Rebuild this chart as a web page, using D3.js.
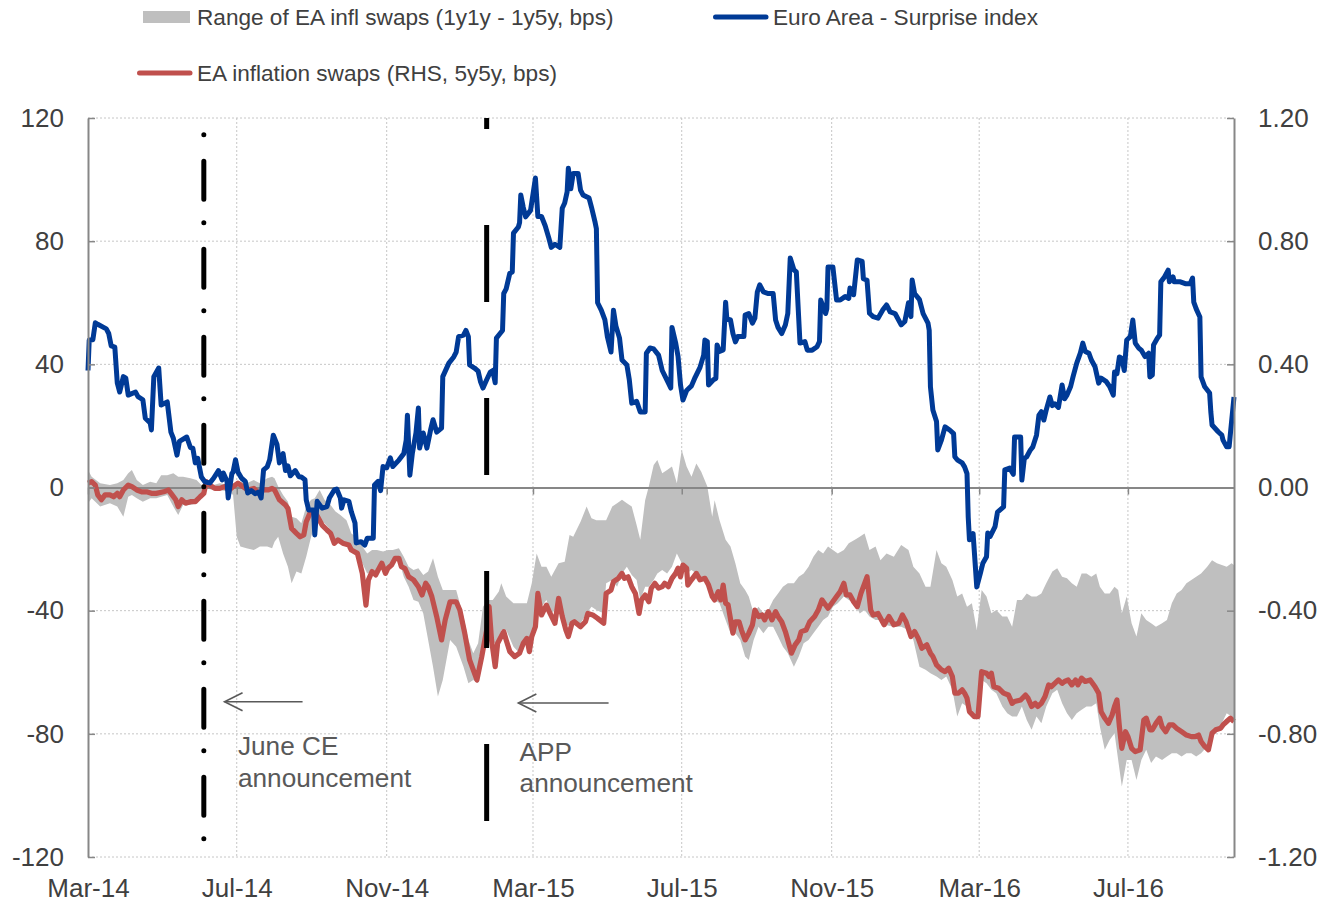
<!DOCTYPE html>
<html><head><meta charset="utf-8">
<script src="https://cdn.jsdelivr.net/npm/d3@7"></script>
<style>
body{margin:0;background:#fff}
svg{display:block}
text{font-family:"Liberation Sans",Arial,Helvetica,sans-serif}
</style>
</head><body>
<svg id="c" width="1322" height="903"></svg>
<script>
// ---------------- DATA ----------------
const startDate = "2014-03-01";           // day 0
const endDay = 940;                        // last observation (days after start)
const tickDates = ["2014-03-01","2014-07-01","2014-11-01","2015-03-01","2015-07-01","2015-11-01","2016-03-01","2016-07-01"];
const leftTicks = [-120,-80,-40,0,40,80,120];
const rightTicks = [-1.2,-0.8,-0.4,0,0.4,0.8,1.2];

// Euro Area - Surprise index (LHS) : [day, value]
const surprise = [[0,38],[1,47.9],[4,48],[6,53.5],[8,53],[15,51.5],[17,50],[19,46],[22,45.6],[24,34],[26,31],[29,36],[31,35.5],[33,30],[39,31],[41,29.5],[45,28.5],[47,22.5],[51,21],[52,18.7],[54,36],[58,38.8],[60,26.8],[65,27.8],[68,18],[70,16],[73,10.5],[75,15],[81,16.4],[84,13],[86,12.8],[88,8],[90,9.5],[93,3.4],[96,1.8],[100,1.5],[103,3],[107,5.5],[110,2.5],[111,4.7],[114,2],[115,-3.4],[118,4.5],[119,5],[121,9],[123,5],[126,3],[129,2],[131,-1.8],[134,-1],[137,-2],[140,-1.5],[142,-3.4],[144,5.7],[147,6.7],[149,9],[152,17],[155,14],[157,8],[160,11],[162,5.5],[164,7],[166,3.8],[170,5.5],[173,3.5],[175,3.4],[178,2.5],[179,-4],[181,-7.3],[185,-7.3],[186,-15.4],[188,-4.5],[192,-6.7],[196,-6.2],[198,-3.4],[202,-0.8],[204,-0.5],[207,-3.4],[208,-6.7],[210,-4],[214,-4.5],[216,-7.9],[219,-11.5],[220,-18],[224,-17.6],[227,-18.7],[229,-16.5],[234,-16.5],[235,0.8],[238,2],[240,-1],[242,6.8],[245,6.4],[248,9.6],[250,6.8],[255,8.9],[259,11],[261,15.4],[262,23.5],[264,4],[266,11],[269,17.7],[271,25.8],[272,12.8],[275,17.7],[278,12.8],[281,18.7],[283,22],[286,18],[290,19.3],[291,36],[296,40.4],[300,42.4],[302,44],[304,49],[308,49.5],[310,51],[312,49],[313,39.8],[317,38.8],[320,37.8],[322,34.3],[324,32.3],[327,35],[330,37.5],[332,38],[334,34],[335,48.5],[338,50],[340,51],[341,63],[343,64.5],[346,69.6],[348,70],[349,82.6],[353,84.6],[354,86],[355,95],[357,91],[359,87.9],[363,90],[367,100.5],[369,88],[372,88],[375,85],[378,81],[380,78],[383,79],[387,78],[389,90.7],[391,92.4],[393,96],[394,103.7],[396,97],[398,102],[402,102],[404,96.6],[406,95],[411,94],[413,91],[416,86],[417,84],[418,60],[421,57.6],[424,54.4],[426,49],[429,44],[431,57.6],[433,52.5],[436,48.5],[438,41.4],[442,39.8],[444,35],[446,27.4],[450,28],[453,24.5],[457,24.5],[458,43.6],[461,45.3],[464,45],[468,43],[471,38],[475,34.8],[478,32.3],[479,52],[482,47],[484,42.5],[486,33.3],[488,28.4],[491,31.5],[495,33],[498,35.8],[502,39],[505,43],[506,47.9],[508,47.4],[509,33.3],[513,35],[515,35.4],[516,46.3],[518,44.2],[521,44.7],[523,60.2],[524,54.8],[527,54.4],[529,50],[531,47.3],[533,49],[538,49],[539,56],[542,56.5],[545,53.4],[547,55],[549,63.5],[551,65.8],[554,63.5],[558,63],[562,63],[564,54.4],[566,52],[569,50],[572,52.8],[574,56.5],[576,74.5],[579,70.7],[581,70],[584,46.9],[588,47.4],[590,44.6],[594,44.6],[598,45.7],[600,47.4],[601,60.9],[605,56.5],[606,58],[607,71.6],[611,71.6],[614,60.9],[617,60.9],[621,62],[624,61.4],[625,64.8],[628,62.6],[631,73.9],[635,73.4],[636,67.8],[639,67.3],[641,56.6],[644,55.5],[648,55],[652,57.7],[655,59.3],[658,57],[662,56.5],[667,52.8],[670,53.9],[673,60],[675,55.5],[676,67.4],[678,63],[682,61],[685,56.5],[689,53.4],[690,51],[691,32.7],[693,25.2],[696,21.4],[697,12.2],[700,15.4],[703,19.7],[707,18.6],[710,17.5],[711,10],[713,9],[717,8],[719,6.7],[721,4.5],[722,-9.6],[723,-17],[726,-15],[729,-32.3],[732,-27.8],[734,-24.6],[737,-22.5],[738,-14.8],[740,-15.9],[744,-12.7],[746,-8],[751,-6.3],[752,5.7],[756,6.3],[759,4.3],[760,16.4],[765,16.4],[766,2.4],[768,9.4],[770,10],[773,12.2],[775,13.2],[778,17],[780,23.5],[782,24.6],[784,21.9],[786,25.2],[789,29.4],[791,26.6],[793,27.2],[796,26],[799,33.3],[801,28.8],[803,30],[806,32.8],[808,36],[811,40.4],[814,43.7],[816,46.9],[818,44.2],[821,43.6],[823,41.4],[826,39.2],[829,33.9],[831,35.5],[835,34.5],[838,32.8],[841,30],[842,37.5],[844,37],[846,42.4],[848,41.9],[850,38],[852,47.9],[855,49],[857,54.4],[859,46.9],[862,45.2],[864,44.6],[867,42.5],[870,43.6],[871,35.9],[873,36.5],[874,46.3],[877,48.4],[879,49.5],[880,66.8],[883,68.4],[886,70.6],[887,66.8],[890,68.4],[891,66.8],[896,66.8],[900,66.2],[904,66.2],[906,68],[907,60.2],[909,58],[912,55.4],[913,35.9],[916,32.7],[920,30.7],[921,24.5],[922,20.3],[927,18.1],[930,17],[931,15.4],[934,13.2],[936,13.2],[940,29.4]];

// EA inflation swaps 5y5y (RHS) : [day, value]
const swaps5y5y = [[0,0.014],[3,0.019],[6,0.008],[8,-0.024],[11,-0.04],[14,-0.024],[18,-0.024],[21,-0.03],[24,-0.019],[26,-0.03],[29,-0.008],[33,0.008],[36,0.003],[40,-0.008],[44,-0.014],[48,-0.014],[52,-0.019],[56,-0.019],[62,-0.014],[66,-0.008],[69,-0.024],[72,-0.04],[74,-0.062],[77,-0.04],[80,-0.051],[84,-0.046],[88,-0.046],[92,-0.03],[95,-0.019],[97,0.019],[100,0.008],[104,-0.003],[108,-0.003],[112,0.003],[116,-0.008],[119,0.003],[123,0.014],[127,0.003],[131,-0.008],[136,-0.003],[140,-0.019],[144,-0.008],[148,-0.008],[151,-0.003],[153,-0.008],[157,-0.04],[162,-0.057],[164,-0.068],[167,-0.133],[171,-0.149],[174,-0.16],[177,-0.154],[179,-0.111],[182,-0.084],[186,-0.078],[189,-0.1],[192,-0.122],[196,-0.138],[199,-0.149],[202,-0.181],[205,-0.17],[209,-0.181],[214,-0.187],[216,-0.203],[221,-0.214],[225,-0.279],[228,-0.382],[230,-0.3],[233,-0.273],[236,-0.284],[238,-0.268],[241,-0.246],[244,-0.279],[246,-0.262],[249,-0.252],[252,-0.23],[255,-0.23],[257,-0.257],[260,-0.263],[263,-0.29],[267,-0.3],[271,-0.322],[274,-0.349],[277,-0.311],[279,-0.322],[282,-0.354],[286,-0.419],[290,-0.495],[293,-0.43],[297,-0.371],[302,-0.371],[305,-0.398],[309,-0.473],[313,-0.56],[319,-0.625],[323,-0.549],[327,-0.463],[329,-0.387],[331,-0.495],[334,-0.582],[336,-0.506],[341,-0.468],[343,-0.495],[346,-0.533],[350,-0.549],[354,-0.538],[357,-0.506],[360,-0.49],[362,-0.533],[364,-0.484],[367,-0.452],[369,-0.344],[372,-0.414],[376,-0.382],[379,-0.409],[383,-0.441],[386,-0.36],[389,-0.419],[392,-0.463],[394,-0.484],[397,-0.441],[399,-0.436],[404,-0.452],[408,-0.436],[410,-0.409],[414,-0.414],[418,-0.425],[423,-0.441],[425,-0.344],[429,-0.333],[431,-0.306],[435,-0.295],[438,-0.279],[440,-0.295],[443,-0.29],[446,-0.322],[449,-0.344],[452,-0.409],[454,-0.365],[457,-0.349],[460,-0.371],[462,-0.327],[465,-0.311],[468,-0.327],[471,-0.322],[473,-0.311],[476,-0.322],[479,-0.295],[482,-0.279],[484,-0.262],[486,-0.29],[488,-0.252],[491,-0.262],[492,-0.317],[495,-0.3],[499,-0.279],[502,-0.3],[506,-0.295],[509,-0.317],[512,-0.354],[514,-0.365],[517,-0.338],[519,-0.365],[521,-0.317],[523,-0.376],[525,-0.381],[529,-0.473],[531,-0.436],[534,-0.436],[536,-0.463],[539,-0.495],[542,-0.473],[545,-0.446],[547,-0.398],[550,-0.419],[553,-0.414],[555,-0.43],[558,-0.403],[561,-0.43],[564,-0.403],[566,-0.419],[569,-0.436],[572,-0.468],[574,-0.495],[577,-0.538],[580,-0.511],[583,-0.495],[585,-0.468],[589,-0.463],[592,-0.436],[596,-0.419],[599,-0.398],[602,-0.365],[604,-0.376],[607,-0.392],[610,-0.376],[614,-0.354],[617,-0.338],[620,-0.311],[622,-0.349],[625,-0.349],[628,-0.371],[631,-0.387],[634,-0.344],[639,-0.29],[642,-0.398],[644,-0.414],[648,-0.409],[653,-0.446],[657,-0.419],[661,-0.446],[665,-0.441],[668,-0.414],[671,-0.436],[675,-0.484],[678,-0.468],[681,-0.49],[684,-0.522],[688,-0.511],[691,-0.538],[693,-0.549],[696,-0.576],[700,-0.592],[703,-0.598],[706,-0.587],[709,-0.614],[711,-0.668],[714,-0.668],[717,-0.657],[719,-0.668],[721,-0.684],[723,-0.728],[727,-0.744],[730,-0.744],[733,-0.598],[737,-0.603],[739,-0.614],[741,-0.603],[743,-0.647],[747,-0.652],[751,-0.668],[755,-0.674],[758,-0.701],[760,-0.695],[765,-0.69],[769,-0.674],[771,-0.684],[774,-0.711],[777,-0.701],[779,-0.711],[782,-0.701],[785,-0.679],[788,-0.641],[790,-0.647],[793,-0.636],[796,-0.625],[799,-0.636],[801,-0.63],[804,-0.625],[807,-0.641],[810,-0.625],[812,-0.641],[815,-0.619],[818,-0.63],[822,-0.625],[826,-0.647],[829,-0.668],[831,-0.728],[834,-0.749],[837,-0.766],[840,-0.739],[842,-0.711],[844,-0.69],[846,-0.777],[848,-0.847],[851,-0.793],[853,-0.809],[856,-0.847],[859,-0.858],[863,-0.852],[866,-0.755],[868,-0.749],[871,-0.787],[873,-0.787],[876,-0.766],[879,-0.749],[881,-0.777],[884,-0.793],[887,-0.771],[890,-0.771],[893,-0.782],[897,-0.793],[901,-0.804],[905,-0.809],[908,-0.809],[911,-0.804],[913,-0.825],[916,-0.841],[919,-0.852],[922,-0.798],[925,-0.787],[929,-0.782],[931,-0.771],[934,-0.76],[937,-0.749],[940,-0.76]];

// Range of EA infl swaps (1y1y - 1y5y) : [day, low, high]
const swapRange = [[0,-0.051,0.057],[3,-0.035,0.035],[10,-0.062,0.014],[18,-0.051,0.008],[24,-0.062,0.014],[29,-0.095,0.024],[33,-0.03,0.046],[36,-0.024,0.057],[40,-0.035,0.024],[45,-0.046,0.008],[51,-0.035,0.019],[56,-0.035,0.014],[60,-0.03,0.04],[65,-0.024,0.04],[70,-0.062,0.046],[74,-0.089,0.035],[78,-0.057,0.035],[84,-0.057,0.03],[89,-0.051,0.024],[93,-0.03,0.008],[97,-0.003,0.019],[103,-0.008,0.008],[108,-0.008,0.014],[116,-0.014,0.008],[119,-0.024,0.003],[122,-0.16,0.014],[125,-0.192,0.019],[130,-0.197,0.014],[136,-0.203,0.024],[141,-0.192,0.014],[147,-0.192,0.03],[151,-0.197,0.035],[153,-0.176,0.03],[156,-0.16,0.003],[160,-0.214,-0.024],[164,-0.257,-0.046],[167,-0.311,-0.095],[171,-0.273,-0.1],[175,-0.279,-0.116],[179,-0.225,-0.062],[183,-0.16,-0.04],[186,-0.122,-0.035],[190,-0.106,-0.008],[194,-0.116,-0.04],[199,-0.138,-0.057],[203,-0.17,-0.078],[207,-0.181,-0.089],[212,-0.192,-0.106],[216,-0.203,-0.149],[220,-0.214,-0.16],[225,-0.246,-0.192],[229,-0.279,-0.214],[233,-0.273,-0.203],[237,-0.279,-0.203],[242,-0.257,-0.208],[246,-0.257,-0.203],[250,-0.241,-0.203],[255,-0.235,-0.197],[259,-0.29,-0.225],[263,-0.322,-0.257],[267,-0.365,-0.268],[271,-0.371,-0.262],[275,-0.409,-0.284],[279,-0.495,-0.273],[283,-0.582,-0.23],[287,-0.679,-0.29],[291,-0.625,-0.333],[297,-0.495,-0.333],[302,-0.517,-0.333],[308,-0.582,-0.419],[312,-0.636,-0.495],[316,-0.625,-0.538],[320,-0.636,-0.506],[324,-0.517,-0.387],[328,-0.419,-0.365],[332,-0.495,-0.365],[337,-0.528,-0.338],[339,-0.463,-0.311],[343,-0.463,-0.354],[349,-0.517,-0.376],[354,-0.538,-0.376],[360,-0.506,-0.376],[364,-0.495,-0.311],[368,-0.387,-0.214],[372,-0.387,-0.257],[376,-0.365,-0.257],[380,-0.409,-0.29],[386,-0.387,-0.246],[391,-0.452,-0.241],[395,-0.446,-0.154],[398,-0.436,-0.16],[404,-0.441,-0.111],[409,-0.409,-0.062],[413,-0.387,-0.1],[417,-0.398,-0.106],[423,-0.409,-0.106],[425,-0.311,-0.106],[430,-0.3,-0.062],[434,-0.322,-0.051],[438,-0.279,-0.04],[442,-0.257,-0.051],[446,-0.284,-0.062],[450,-0.3,-0.122],[453,-0.365,-0.17],[457,-0.322,-0.041],[460,-0.322,0.003],[464,-0.3,0.073],[467,-0.279,0.089],[471,-0.268,0.046],[475,-0.279,0.057],[479,-0.257,0.068],[483,-0.214,0.014],[487,-0.246,0.122],[491,-0.279,0.068],[495,-0.268,0.035],[499,-0.279,0.078],[503,-0.29,0.051],[508,-0.3,0.003],[512,-0.333,-0.095],[514,-0.365,-0.041],[518,-0.376,-0.106],[523,-0.43,-0.17],[527,-0.473,-0.192],[531,-0.473,-0.246],[535,-0.495,-0.311],[539,-0.549,-0.333],[542,-0.56,-0.354],[546,-0.495,-0.408],[550,-0.452,-0.387],[554,-0.473,-0.408],[558,-0.452,-0.398],[562,-0.452,-0.365],[566,-0.484,-0.344],[570,-0.517,-0.322],[574,-0.538,-0.311],[579,-0.582,-0.311],[583,-0.549,-0.29],[587,-0.506,-0.279],[591,-0.495,-0.257],[595,-0.473,-0.225],[599,-0.452,-0.203],[603,-0.43,-0.214],[607,-0.419,-0.192],[611,-0.387,-0.203],[615,-0.376,-0.214],[620,-0.354,-0.203],[624,-0.365,-0.181],[629,-0.376,-0.17],[633,-0.409,-0.16],[637,-0.398,-0.149],[641,-0.419,-0.203],[646,-0.43,-0.192],[650,-0.43,-0.236],[655,-0.447,-0.214],[661,-0.452,-0.225],[667,-0.452,-0.187],[673,-0.463,-0.203],[677,-0.495,-0.257],[682,-0.582,-0.279],[687,-0.592,-0.322],[691,-0.603,-0.322],[696,-0.614,-0.203],[700,-0.625,-0.246],[704,-0.614,-0.257],[709,-0.657,-0.3],[713,-0.744,-0.354],[717,-0.701,-0.344],[721,-0.711,-0.387],[725,-0.733,-0.376],[729,-0.755,-0.463],[733,-0.625,-0.333],[737,-0.636,-0.354],[741,-0.657,-0.408],[745,-0.668,-0.398],[750,-0.711,-0.419],[754,-0.733,-0.419],[758,-0.744,-0.452],[762,-0.744,-0.365],[766,-0.711,-0.365],[770,-0.755,-0.344],[774,-0.787,-0.354],[778,-0.744,-0.354],[782,-0.766,-0.344],[786,-0.711,-0.311],[791,-0.668,-0.273],[795,-0.657,-0.262],[799,-0.701,-0.29],[803,-0.733,-0.295],[807,-0.755,-0.311],[811,-0.733,-0.322],[815,-0.722,-0.279],[819,-0.711,-0.279],[823,-0.711,-0.29],[827,-0.701,-0.279],[830,-0.776,-0.322],[834,-0.852,-0.344],[838,-0.82,-0.344],[842,-0.798,-0.322],[845,-0.885,-0.333],[848,-0.971,-0.408],[852,-0.885,-0.354],[856,-0.885,-0.441],[860,-0.95,-0.484],[864,-0.885,-0.408],[868,-0.852,-0.43],[872,-0.895,-0.441],[876,-0.874,-0.452],[881,-0.885,-0.441],[885,-0.874,-0.43],[889,-0.863,-0.376],[893,-0.863,-0.344],[897,-0.874,-0.333],[901,-0.863,-0.311],[905,-0.863,-0.3],[909,-0.874,-0.29],[913,-0.863,-0.279],[918,-0.841,-0.257],[922,-0.798,-0.236],[926,-0.787,-0.246],[930,-0.766,-0.252],[934,-0.733,-0.257],[938,-0.744,-0.246],[940,-0.755,-0.252]];

// Event markers and their annotations
const events = [
  {date:"2014-06-04", kind:"dashdot", arrowTip:"2014-06-21", arrowTail:"2014-08-24", arrowY:-69.6, textDate:"2014-07-02", textY:[-86.9,-97.3], label:["June CE","announcement"]},
  {date:"2015-01-22", kind:"dash", arrowTip:"2015-02-17", arrowTail:"2015-05-02", arrowY:-70, textDate:"2015-02-18", textY:[-88.7,-99], label:["APP","announcement"]}
];
const legendItems = [
  {label:"Range of EA infl swaps (1y1y - 1y5y, bps)", type:"area", color:"#bfbfbf"},
  {label:"Euro Area - Surprise index", type:"line", color:"#003a96"},
  {label:"EA inflation swaps (RHS, 5y5y, bps)", type:"line", color:"#c0504d"}
];

// ---------------- CHART ----------------
const svg = d3.select("#c");
const M = {l:88, r:1234, t:118, b:857};
const parse = d3.timeParse("%Y-%m-%d");
const t0 = parse(startDate);
const dayToDate = d => d3.timeDay.offset(t0, d);
const x = d3.scaleTime().domain([t0, dayToDate(endDay)]).range([M.l, M.r]);
const yL = d3.scaleLinear().domain([-120,120]).range([M.b, M.t]);
const yR = d3.scaleLinear().domain([-1.2,1.2]).range([M.b, M.t]);
const FONT = '"Liberation Sans",Arial,Helvetica,sans-serif';
const AX = "#878787";

// grid
const grid = svg.append("g");
grid.selectAll("line.h").data(leftTicks.filter(v => v !== 0)).join("line")
  .attr("x1", M.l).attr("x2", M.r).attr("y1", d => yL(d)).attr("y2", d => yL(d))
  .attr("stroke", "#c6c6c6").attr("stroke-width", 1).attr("stroke-dasharray", "2,2");
grid.selectAll("line.v").data(tickDates.slice(1)).join("line")
  .attr("x1", d => x(parse(d))).attr("x2", d => x(parse(d))).attr("y1", M.t).attr("y2", M.b)
  .attr("stroke", "#c6c6c6").attr("stroke-width", 1).attr("stroke-dasharray", "2,2");

// band
const area = d3.area().x(d => x(dayToDate(d[0]))).y0(d => yR(d[1])).y1(d => yR(d[2]));
svg.append("path").datum(swapRange).attr("d", area).attr("fill", "#bfbfbf");

// zero axis with ticks
const xAxisZero = d3.axisBottom(x).tickValues(tickDates.map(parse)).tickSize(7).tickSizeOuter(0).tickFormat("");
const gz = svg.append("g").attr("transform", `translate(0,${yL(0)})`).call(xAxisZero);
gz.select(".domain").attr("stroke", AX).attr("stroke-width", 2);
gz.selectAll(".tick line").attr("stroke", AX).attr("stroke-width", 1.5);

// lines
const lineR = d3.line().x(d => x(dayToDate(d[0]))).y(d => yR(d[1]));
const lineL = d3.line().x(d => x(dayToDate(d[0]))).y(d => yL(d[1]));
svg.append("path").datum(swaps5y5y).attr("d", lineR).attr("fill", "none")
  .attr("stroke", "#c0504d").attr("stroke-width", 5.2).attr("stroke-linejoin", "round");
svg.append("path").datum(surprise).attr("d", lineL).attr("fill", "none")
  .attr("stroke", "#003a96").attr("stroke-width", 5).attr("stroke-linejoin", "round");

// event lines
svg.append("clipPath").attr("id", "pc").append("rect")
  .attr("x", M.l).attr("y", M.t).attr("width", M.r - M.l).attr("height", 760);
events.forEach(e => {
  const ex = x(parse(e.date));
  if (e.kind === "dashdot") {
    svg.append("line").attr("x1", ex).attr("x2", ex)
      .attr("y1", yL(114.6)).attr("y2", yL(-121.6))
      .attr("stroke", "#000").attr("stroke-width", 5).attr("stroke-linecap", "round")
      .attr("stroke-dasharray", "0.01 26.5 38 23.5");
  } else {
    svg.append("line").attr("x1", ex).attr("x2", ex)
      .attr("y1", yL(120)).attr("y2", yL(-120))
      .attr("stroke", "#000").attr("stroke-width", 5)
      .attr("stroke-dasharray", "77 96").attr("stroke-dashoffset", 66)
      .attr("clip-path", "url(#pc)");
  }
  // arrow
  const tx = x(parse(e.arrowTip)), tl = x(parse(e.arrowTail)), ay = yL(e.arrowY);
  const ag = svg.append("g").attr("stroke", "#595959").attr("stroke-width", 1.6).attr("fill", "none");
  ag.append("line").attr("x1", tl).attr("x2", tx).attr("y1", ay).attr("y2", ay);
  ag.append("path").attr("d", `M${tx + 18},${ay - 9}L${tx},${ay}L${tx + 18},${ay + 9}`);
  // text
  e.label.forEach((s, i) => {
    svg.append("text").attr("x", x(parse(e.textDate))).attr("y", yL(e.textY[i]))
      .attr("font-size", 26.2).attr("fill", "#595959").text(s);
  });
});

// left / right axes
const axL = d3.axisLeft(yL).tickValues(leftTicks).tickSize(-7).tickSizeOuter(0).tickPadding(24).tickFormat(d => String(d));
const gL = svg.append("g").attr("transform", `translate(${M.l},0)`).call(axL);
const axR = d3.axisRight(yR).tickValues(rightTicks).tickSize(-7).tickSizeOuter(0).tickPadding(24).tickFormat(d => d.toFixed(2));
const gR = svg.append("g").attr("transform", `translate(${M.r},0)`).call(axR);
[gL, gR].forEach(g => {
  g.select(".domain").attr("stroke", AX).attr("stroke-width", 2);
  g.selectAll(".tick line").attr("stroke", AX).attr("stroke-width", 1.5);
  g.selectAll("text").attr("font-family", FONT).attr("font-size", 26).attr("fill", "#404040");
});

// bottom labels
const axB = d3.axisBottom(x).tickValues(tickDates.map(parse)).tickSize(0).tickPadding(21.5).tickFormat(d3.timeFormat("%b-%y"));
const gB = svg.append("g").attr("transform", `translate(0,${M.b})`).call(axB);
gB.select(".domain").remove();
gB.selectAll("text").attr("font-family", FONT).attr("font-size", 26).attr("fill", "#404040");

// legend
const lg = svg.append("g").attr("font-family", FONT).attr("font-size", 22.6).attr("fill", "#404040");
const legPos = [{x:143, y:17}, {x:713, y:17}, {x:137, y:73}];
legendItems.forEach((it, i) => {
  const p = legPos[i];
  if (it.type === "area") {
    lg.append("rect").attr("x", p.x).attr("y", p.y - 6).attr("width", 47).attr("height", 12).attr("fill", it.color);
  } else {
    lg.append("line").attr("x1", p.x + 2.5).attr("x2", p.x + 53).attr("y1", p.y).attr("y2", p.y)
      .attr("stroke", it.color).attr("stroke-width", 5).attr("stroke-linecap", "round");
  }
  lg.append("text").attr("x", i === 1 ? p.x + 60 : 197).attr("y", p.y).attr("dy", "0.35em").text(it.label);
});
</script>
</body></html>
